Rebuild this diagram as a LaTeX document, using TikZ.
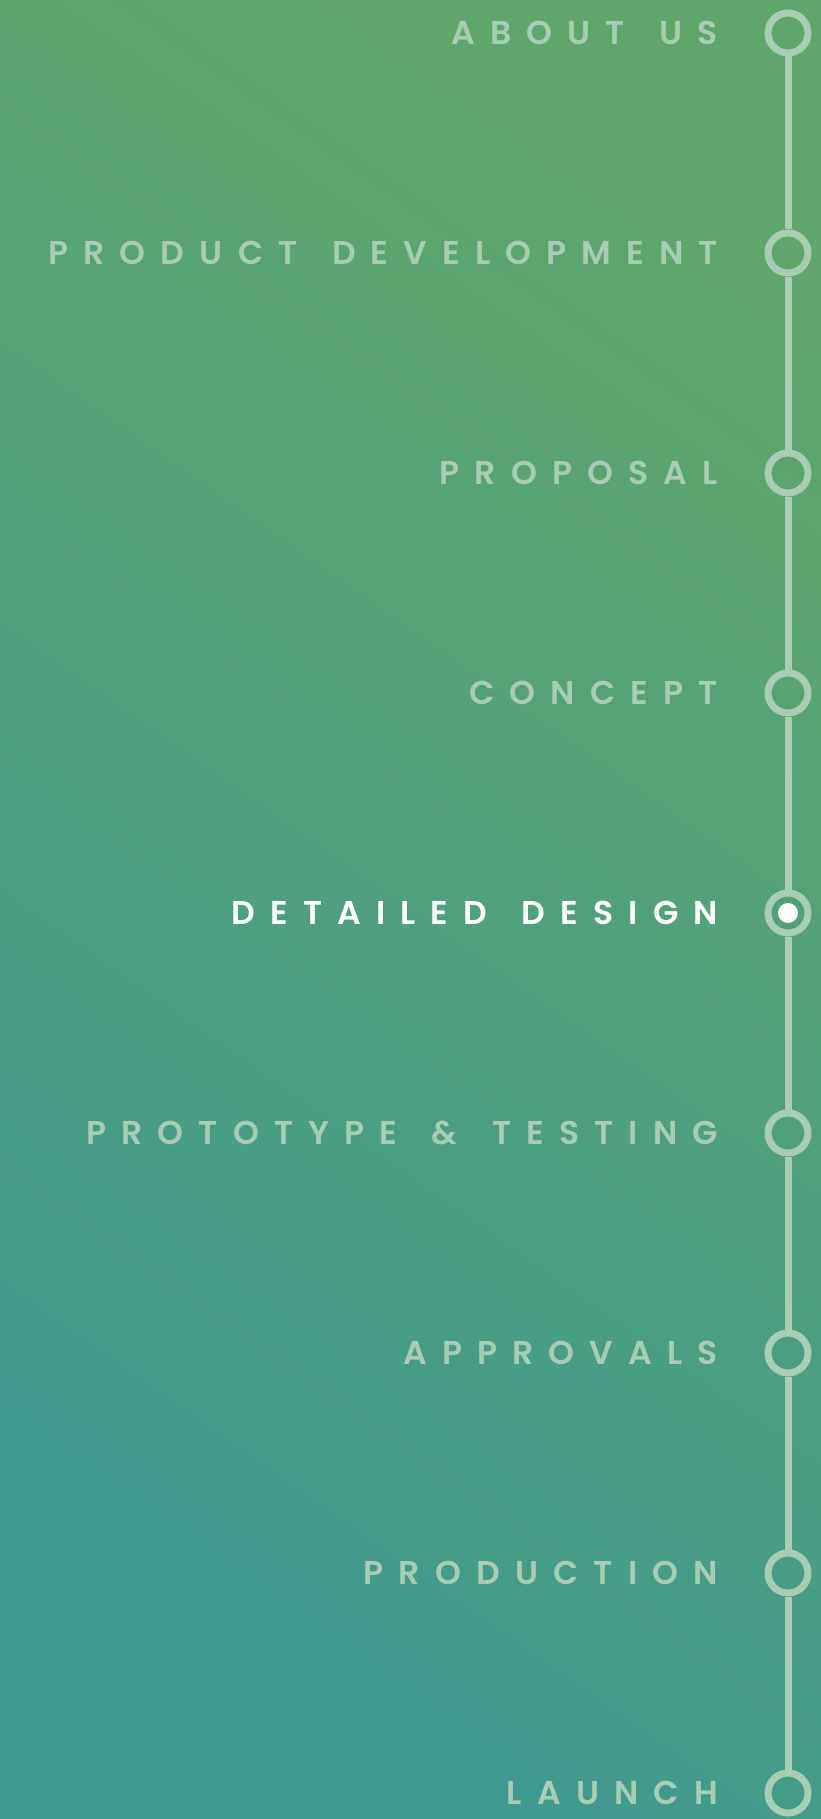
\documentclass[tikz,border=0pt]{standalone}
\usepackage{fontspec}
\usepackage{tikz}
\newfontfamily\stepfont[LetterSpace=46,WordSpace=1.5,UprightFont={* SemiBold}]{Poppins}
\definecolor{bgteal}{HTML}{3F998F}
\definecolor{bggreen}{HTML}{5EA66A}
\definecolor{pale}{HTML}{A8CDB3}

\begin{document}
\begin{tikzpicture}[x=1pt,y=-1pt,
  steptext/.style={anchor=east,inner sep=0pt,text=pale,font=\stepfont\fontsize{33}{33}\selectfont},
  ring/.style={circle,draw=pale,line width=7pt,minimum size=40pt,inner sep=0pt},
  stem/.style={draw=pale,line width=7pt}]
  \shade[bottom color=bgteal,top color=bggreen,shading angle=-35] (0,0) rectangle (821,1819);
  \useasboundingbox (0,0) rectangle (821,1819);

  \node[ring] (c1) at (788,33) {};
  \node[ring] (c2) at (788,253) {};
  \node[ring] (c3) at (788,473) {};
  \node[ring] (c4) at (788,693) {};
  \node[ring] (c5) at (788,913) {};
  \node[ring] (c6) at (788,1133) {};
  \node[ring] (c7) at (788,1353) {};
  \node[ring] (c8) at (788,1573) {};
  \node[ring] (c9) at (788,1793) {};
  \fill[white] (c5) circle (10pt);

  \foreach \a/\b in {c1/c2,c2/c3,c3/c4,c4/c5,c5/c6,c6/c7,c7/c8,c8/c9}
    \draw[stem] (\a) -- (\b);

  \node[steptext] (about) at (718,33) {ABOUT US};
  \node[steptext] (product) at (718,253) {PRODUCT DEVELOPMENT};
  \node[steptext] (proposal) at (718,473) {PROPOSAL};
  \node[steptext] (concept) at (718,693) {CONCEPT};
  \node[steptext,text=white] (design) at (718,913) {DETAILED DESIGN};
  \node[steptext] (testing) at (718,1133) {PROTOTYPE \& TESTING};
  \node[steptext] (approvals) at (718,1353) {APPROVALS};
  \node[steptext] (production) at (718,1573) {PRODUCTION};
  \node[steptext] (launch) at (718,1793) {LAUNCH};
\end{tikzpicture}
\end{document}
